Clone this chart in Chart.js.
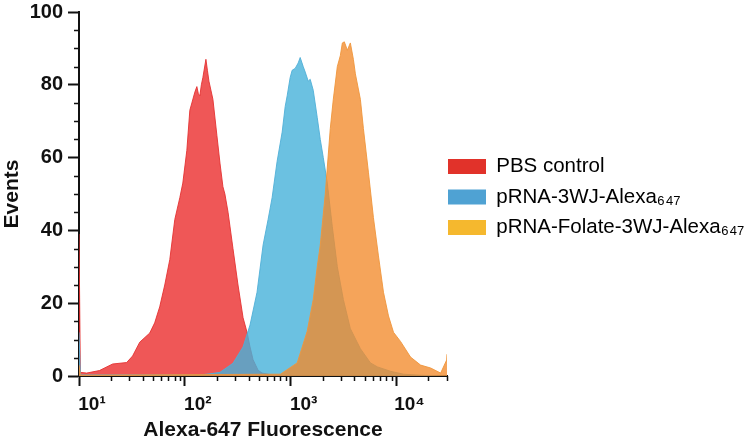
<!DOCTYPE html>
<html>
<head>
<meta charset="utf-8">
<script src="https://cdn.jsdelivr.net/npm/chart.js@4/dist/chart.umd.min.js"></script>
<style>
  html, body { margin: 0; padding: 0; background: #fff; }
  #wrap { width: 755px; height: 444px; }
</style>
</head>
<body>
<div id="wrap"><canvas id="histChart"></canvas></div>
<script>
// PBS control
const pbsX = [10, 10.3, 11.8, 15.6, 20.8, 28.2, 32.1, 37.5, 46.6, 51.9, 57.9, 64.6, 72.1, 80.4, 89.7, 95.7, 104.5, 111.5, 116.5, 124.4, 129.9, 134.3, 138.7, 143.3, 148.1, 158.2, 163.4, 168.9, 184.2, 201, 214.7, 229, 239, 256, 285, 318, 355, 387, 413, 441, 492, 537, 639, 795, 989];
const pbsY = [39, 1.0, 0.8, 1.5, 3.3, 3.7, 5.5, 9.3, 11.8, 14.6, 19, 25, 32, 43, 49, 53, 62, 73, 75, 78, 79.5, 77.5, 77, 80, 82, 87, 84, 81, 76, 66, 58.5, 52, 50, 45, 35, 25, 16, 12, 8, 4.5, 1.6, 0.8, 0.4, 0.2, 0];

// pRNA-3WJ-Alexa647
const wjX = [10, 10.3, 139, 172.6, 215, 285, 355, 413, 481, 549, 612, 668, 745, 831, 887, 927, 989, 1033, 1103, 1178, 1230, 1314, 1372, 1465, 1530, 1634, 1783, 1904, 2033, 2218, 2474, 2759, 3146, 3664, 4558, 5670, 6607, 8773, 11650, 16880, 30000];
const wjY = [12, 0.3, 0.3, 0.6, 1, 3.5, 8, 14, 23, 36, 43, 49, 59, 67, 74, 77, 82, 84, 84.5, 86, 87.5, 85, 83.5, 81, 81.5, 78.5, 71, 65, 60, 53, 41, 30, 21, 13, 7.5, 3.6, 2.5, 1.3, 0.5, 0.2, 0];

// pRNA-Folate-3WJ-Alexa647
const folX = [10, 10.3, 800, 1152, 1433, 1634, 1783, 1904, 2123, 2368, 2528, 2759, 2945, 3078, 3215, 3432, 3664, 3913, 4087, 4558, 4867, 5427, 6053, 6751, 7533, 8400, 9368, 10910, 13570, 16880, 21010, 26130, 29780, 30000];
const folY = [3, 0.2, 0.5, 3.6, 12.3, 21, 30, 36, 50, 68, 76, 85, 88, 91.5, 91.8, 89.5, 91.5, 87, 83, 76, 68, 56, 43.5, 33, 23, 16.5, 12, 9.5, 5.2, 3, 2.2, 0.8, 4.4, 6];

const legendNames = ['PBS control', 'pRNA-3WJ-Alexa\u2086\u2084\u2087', 'pRNA-Folate-3WJ-Alexa\u2086\u2084\u2087'];
const legendColors = ['#e1322a', '#4fa2d3', '#f5b82e'];

const xMajor = [10, 100, 1000, 10000];
const xLabels = ['10\u00b9', '10\u00b2', '10\u00b3', '10\u2074'];
const yMajor = [0, 20, 40, 60, 80, 100];

const FONT = "'Liberation Sans', Arial, Helvetica, sans-serif";

function pairs(xs, ys) {
    return xs.map((x, i) => ({ x: x, y: ys[i] }));
}

// minor tick marks, shorter than the major ones
const minorTicks = {
    id: 'minorTicks',
    afterDraw(chart) {
        const { ctx, scales: { x, y } } = chart;
        ctx.save();
        ctx.strokeStyle = '#111';
        ctx.lineWidth = 1.5;
        ctx.beginPath();
        x.ticks.forEach(t => {
            if (t.major) return;
            const px = Math.round(x.getPixelForValue(t.value)) + 0.5;
            ctx.moveTo(px, x.top);
            ctx.lineTo(px, x.top + 5);
        });
        y.ticks.forEach(t => {
            if (t.major) return;
            const py = Math.round(y.getPixelForValue(t.value)) + 0.5;
            ctx.moveTo(y.right, py);
            ctx.lineTo(y.right - 5, py);
        });
        ctx.stroke();
        ctx.restore();
    }
};

// pull the legend flush against the plot edge
const legendShift = {
    id: 'legendShift',
    afterLayout(chart) {
        chart.legend.left -= 9;
        chart.legend.right -= 9;
        chart.legend.top += 3;
        chart.legend.bottom += 3;
    }
};

const ctx = document.getElementById('histChart').getContext('2d');

new Chart(ctx, {
    type: 'line',
    data: {
        datasets: [{
            label: legendNames[0],
            data: pairs(pbsX, pbsY),
            backgroundColor: 'rgba(235, 40, 40, 0.78)',
            borderColor: 'rgba(228, 50, 50, 0.9)',
            borderWidth: 1,
            fill: 'origin',
            order: 3
        }, {
            label: legendNames[1],
            data: pairs(wjX, wjY),
            backgroundColor: 'rgba(70, 178, 218, 0.8)',
            borderColor: 'rgba(80, 175, 215, 0.9)',
            borderWidth: 1,
            fill: 'origin',
            order: 2
        }, {
            label: legendNames[2],
            data: pairs(folX, folY),
            backgroundColor: 'rgba(242, 138, 44, 0.78)',
            borderColor: 'rgba(240, 150, 60, 0.9)',
            borderWidth: 1,
            fill: 'origin',
            order: 1
        }]
    },
    options: {
        responsive: true,
        maintainAspectRatio: false,
        animation: false,
        elements: {
            point: { radius: 0 },
            line: { tension: 0 }
        },
        layout: { padding: 0 },
        plugins: {
            tooltip: { enabled: false },
            legend: {
                position: 'right',
                fullSize: false,
                maxWidth: 308,
                labels: {
                    boxWidth: 38,
                    boxHeight: 15,
                    padding: 10,
                    color: '#111',
                    font: { family: FONT, size: 20.5 },
                    generateLabels: () => legendNames.map((t, i) => ({
                        text: t,
                        fillStyle: legendColors[i],
                        strokeStyle: legendColors[i],
                        lineWidth: 0,
                        hidden: false,
                        datasetIndex: i
                    }))
                }
            }
        },
        scales: {
            x: {
                type: 'logarithmic',
                min: 10,
                max: 30000,
                afterBuildTicks: scale => {
                    const ticks = [];
                    xMajor.forEach(m => {
                        for (let d = 1; d < 10; d++) {
                            const v = m * d;
                            if (v <= 30000) ticks.push({ value: v, major: d === 1 });
                        }
                    });
                    scale.ticks = ticks;
                },
                afterFit: scale => {
                    scale.height = 68;
                },
                border: { display: true, color: '#111', width: 2 },
                grid: {
                    drawOnChartArea: false,
                    drawTicks: true,
                    tickLength: 10,
                    tickWidth: 2,
                    tickColor: c => (c.tick && c.tick.major) ? '#111' : 'rgba(0,0,0,0)'
                },
                ticks: {
                    autoSkip: false,
                    maxRotation: 0,
                    padding: 7,
                    labelOffset: 13,
                    color: '#111',
                    font: { family: FONT, size: 19, weight: 'bold' },
                    callback: v => {
                        const i = xMajor.indexOf(v);
                        return i >= 0 ? xLabels[i] : '';
                    }
                },
                title: {
                    display: true,
                    text: 'Alexa-647 Fluorescence',
                    color: '#111',
                    font: { family: FONT, size: 21, weight: 'bold' },
                    padding: { top: 1, bottom: 1 }
                }
            },
            y: {
                type: 'linear',
                min: 0,
                max: 100,
                afterBuildTicks: scale => {
                    const ticks = [];
                    for (let v = 0; v <= 100; v += 5) ticks.push({ value: v, major: yMajor.includes(v) });
                    scale.ticks = ticks;
                },
                afterFit: scale => {
                    scale.width = 79;
                    scale.paddingTop = 12;
                },
                border: { display: true, color: '#111', width: 2 },
                grid: {
                    drawOnChartArea: false,
                    drawTicks: true,
                    tickLength: 11,
                    tickWidth: 2,
                    tickColor: c => (c.tick && c.tick.major) ? '#111' : 'rgba(0,0,0,0)'
                },
                ticks: {
                    autoSkip: false,
                    padding: 5,
                    color: '#111',
                    font: { family: FONT, size: 20, weight: 'bold' },
                    callback: v => yMajor.includes(v) ? String(v) : ''
                },
                title: {
                    display: true,
                    text: 'Events',
                    color: '#111',
                    font: { family: FONT, size: 21, weight: 'bold' },
                    padding: { top: 0, bottom: 4 }
                }
            }
        }
    },
    plugins: [minorTicks, legendShift]
});
</script>
</body>
</html>
